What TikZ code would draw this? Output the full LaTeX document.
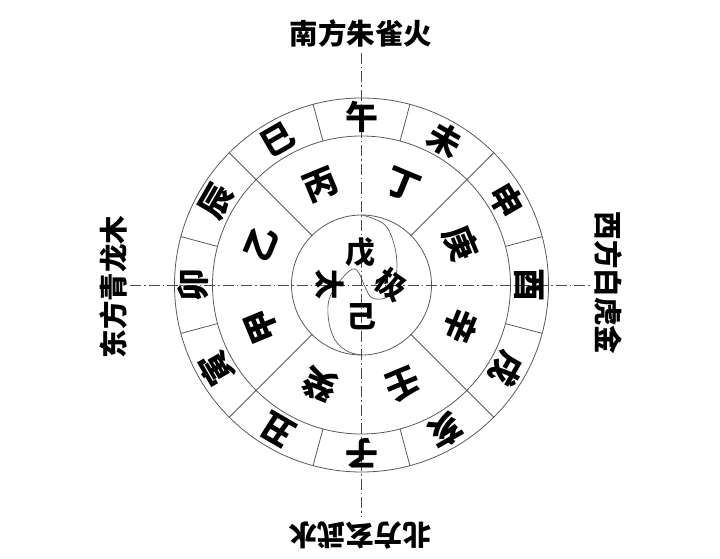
\documentclass[tikz,border=0pt]{standalone}
\usepackage{fontspec}
\usetikzlibrary{calc}
\newfontfamily\cjk{Noto Sans CJK SC}
\begin{document}
\begin{tikzpicture}[x=1pt,y=1pt,
  ring/.style={draw=black!65,line width=0.8pt},
  axisline/.style={draw=black!70,line width=0.7pt,dash pattern=on 11pt off 3pt on 1.5pt off 3pt},
  branch/.style={font=\cjk\bfseries\fontsize{33}{33}\selectfont,inner sep=0pt},
  stem/.style={font=\cjk\bfseries\fontsize{34}{34}\selectfont,inner sep=0pt},
  dirlabel/.style={font=\cjk\bfseries\fontsize{28.5}{28.5}\selectfont,inner sep=0pt},
  centrechar/.style={font=\cjk\bfseries\fontsize{30}{30}\selectfont,inner sep=0pt}]
\useasboundingbox (0,0) rectangle (720,558);
\coordinate (C) at (361.5,273);
% rings
\draw[ring] (C) circle[radius=187];
\draw[ring] (C) circle[radius=149];
\draw[ring] (C) circle[radius=70];
% diagonal lines through both rings
\foreach \a in {45,135,225,315}
  \draw[ring] ($(C)+(\a:70)$) -- ($(C)+(\a:187)$);
% branch ring separators
\foreach \a in {15,75,105,165,195,255,285,345}
  \draw[ring] ($(C)+(\a:149)$) -- ($(C)+(\a:187)$);
% yin-yang S curve
\draw[ring,line width=0.7pt] plot[smooth,tension=0.6] coordinates {
  (362.3,343) (385,333) (395,310) (396.7,286.3) (391.7,268) (385,259.7)
  (371.7,260.3) (365,271.3) (356.7,288) (346.7,284.7) (330.3,262)
  (328.3,240) (335,218) (348.3,206.3) (362.3,203)};
% axes
\coordinate (vt) at (361,505);
\coordinate (vb) at (361,41);
\coordinate (hl) at (130,273);
\coordinate (hr) at (590,273);
\draw[axisline] (vt) -- (vb);
\draw[axisline] (hl) -- (hr);
% branches
\foreach \a/\t/\n in {90/午/wu,60/未/wei,30/申/shen,0/酉/you,-30/戌/xu,-60/亥/hai,-90/子/zi,-120/丑/chou,-150/寅/yin,180/卯/mao,150/辰/chen,120/巳/si}
  \node[branch,rotate=\a-90] (b\n) at ($(C)+(\a:168)$) {\t};
% stems
\foreach \a/\t/\n in {67.5/丁/ding,112.5/丙/bing,157.5/乙/yi,202.5/甲/jia,247.5/癸/gui,292.5/壬/ren,337.5/辛/xin,22.5/庚/geng}
  \node[stem,rotate=\a-90] (s\n) at ($(C)+(\a:108)$) {\t};
% centre
\node[centrechar] (wu5) at (360,306) {戊};
\node[centrechar] (ji6) at (361,241) {己};
\node[centrechar,rotate=-90] (tai) at (330,274) {太};
\node[centrechar,rotate=-35] (jiq) at (391,273) {极};
% direction labels
\node[dirlabel] (south) at (361,524) {南方朱雀火};
\node[dirlabel,rotate=180] (north) at (360,23) {北方玄武水};
\node[dirlabel,rotate=90] (east) at (113,271) {东方青龙木};
\node[dirlabel,rotate=-90] (west) at (608,275) {西方白虎金};
\end{tikzpicture}
\end{document}
